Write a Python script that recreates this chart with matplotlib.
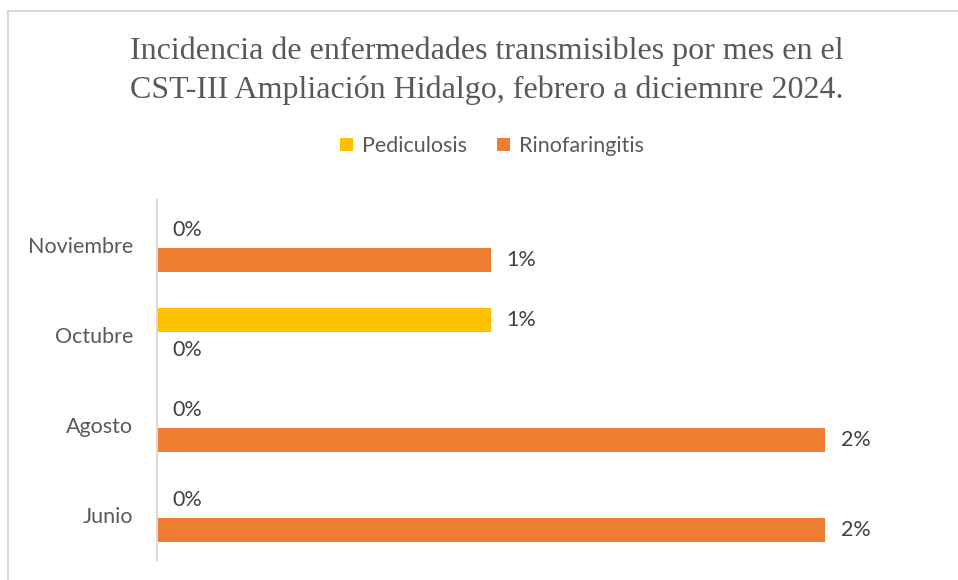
import matplotlib.pyplot as plt
from matplotlib.patches import Rectangle
import numpy as np

meses = ['Junio', 'Agosto', 'Octubre', 'Noviembre']
pediculosis = [0.0, 0.0, 0.01, 0.0]
rinofaringitis = [0.02, 0.02, 0.0, 0.01]
series = ['Pediculosis', 'Rinofaringitis']
colores = ['#FFC000', '#ED7D31']

W, H = 958, 580
fig = plt.figure(figsize=(W / 100, H / 100), dpi=100)

# marco gris del gráfico (solo se ven arriba e izquierda)
fig.patches.append(Rectangle((8 / W, -0.1), 1.2, (H - 11) / H + 0.1,
                             transform=fig.transFigure, fill=False,
                             edgecolor='#D9D9D9', linewidth=1.5))

ax = fig.add_axes([157 / W, 20 / H, 752 / W, 360 / H])

y = np.arange(len(meses))
off = 0.165
alto = 0.265
b1 = ax.barh(y + off, pediculosis, height=alto, color=colores[0], label=series[0])
b2 = ax.barh(y - off, rinofaringitis, height=alto, color=colores[1], label=series[1])

for barras, vals in [(b1, pediculosis), (b2, rinofaringitis)]:
    for b, v in zip(barras, vals):
        ax.annotate(f'{v * 100:.0f}%', (v, b.get_y() + b.get_height() / 2),
                    xytext=(11, 0), textcoords='offset points',
                    va='center', ha='left', fontsize=15.5, color='#404040',
                    family='Lato')

ax.set_xlim(0, 0.0225)
ax.set_ylim(-0.5, 3.5)
ax.set_yticks(y)
ax.set_yticklabels(meses, fontsize=15.5, color='#595959', family='Lato')
ax.tick_params(axis='y', length=0, pad=17)
ax.set_xticks([])
for s in ['top', 'right', 'bottom']:
    ax.spines[s].set_visible(False)
ax.spines['left'].set_color('#D9D9D9')
ax.spines['left'].set_linewidth(1.5)

fig.text(487 / W, 1 - 71 / H,
         'Incidencia de enfermedades transmisibles por mes en el\n'
         'CST-III Ampliación Hidalgo, febrero a diciemnre 2024.',
         ha='center', va='center', fontsize=23, color='#595959',
         family='Liberation Serif', linespacing=1.4)

leg = fig.legend(handles=[b1, b2], labels=series, loc='center',
                 bbox_to_anchor=(492 / W, 1 - 146 / H), ncol=2, frameon=False,
                 prop={'family': 'Lato', 'size': 15.5}, handlelength=0.6,
                 handleheight=0.6, handletextpad=0.4, columnspacing=1.4)
for t in leg.get_texts():
    t.set_color('#595959')

fig.savefig('out.png', dpi=100)
